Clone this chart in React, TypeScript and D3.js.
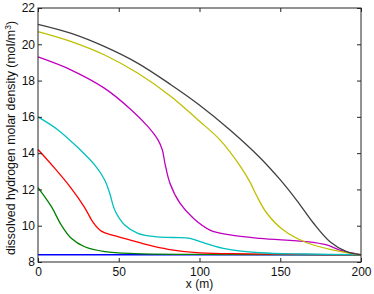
import React, {useEffect, useRef} from 'react'
import * as d3 from 'd3';

// x positions (m) and dissolved H2 density values
const blueX = [0, 200];
const blueY = [8.4, 8.4];

const greenX = [0, 8.3, 14.4, 20.6, 28.9, 41.3, 60, 100, 200];
const greenY = [12.1, 11.05, 10.04, 9.31, 8.84, 8.57, 8.46, 8.42, 8.4];

const redX = [0, 10.3, 20.6, 28.9, 34, 39.2, 45.4, 55.7, 68.1, 80.5, 100.3, 130, 160, 200];
const redY = [14.2, 13.17, 12.06, 11.0, 10.2, 9.7, 9.49, 9.25, 8.94, 8.7, 8.5, 8.45, 8.42, 8.4];

const cyanX = [0, 12.4, 25.8, 35.1, 41.3, 44.4, 47.5, 53.7, 61.9, 72.2, 84, 94.1, 100.3, 114.7, 137.5, 165, 200];
const cyanY = [16.0, 15.28, 14.21, 13.35, 12.52, 11.79, 10.87, 10.04, 9.58, 9.4, 9.35, 9.3, 9.12, 8.75, 8.51, 8.44, 8.4];

const magentaX = [0, 20.6, 41.3, 57.8, 68.1, 74.3, 77, 78.6, 81.7, 87.9, 96.2, 106.5, 118.9, 137.5, 166.4, 178.8, 187, 200];
const magentaY = [19.3, 18.58, 17.57, 16.38, 15.46, 14.73, 14.17, 13.44, 12.34, 11.24, 10.41, 9.76, 9.49, 9.3, 9.12, 8.94, 8.66, 8.4];

const yellowX = [0, 20.6, 41.3, 61.9, 82.5, 99.1, 112.7, 125.1, 131.3, 135.4, 141.6, 151.9, 166.4, 182.9, 200];
const yellowY = [20.7, 20.15, 19.41, 18.4, 17.11, 15.83, 14.73, 13.3, 12.4, 11.65, 10.7, 9.76, 9.06, 8.66, 8.4];

const grayX = [0, 20.6, 41.3, 61.9, 82.5, 99.1, 118.9, 137.5, 149.8, 160.2, 170.5, 180.8, 191.1, 200];
const grayY = [21.1, 20.6, 19.87, 18.95, 17.76, 16.71, 15.28, 13.75, 12.55, 11.4, 10.15, 9.12, 8.57, 8.4];

const xTicks = [0, 50, 100, 150, 200];
const yTicks = [8, 10, 12, 14, 16, 18, 20, 22];

const series = [
    {name: 'blue', color: '#0000ff', xs: blueX, ys: blueY},
    {name: 'green', color: '#008000', xs: greenX, ys: greenY},
    {name: 'red', color: '#ff0000', xs: redX, ys: redY},
    {name: 'cyan', color: '#00bfbf', xs: cyanX, ys: cyanY},
    {name: 'magenta', color: '#bf00bf', xs: magentaX, ys: magentaY},
    {name: 'yellow', color: '#bfbf00', xs: yellowX, ys: yellowY},
    {name: 'gray', color: '#404040', xs: grayX, ys: grayY},
];

export default function App(){
    const svgRef = useRef(null);

    const W = 374, H = 294;
    const margin = {top: 8, right: 13, left: 38, bottom: 32};
    const width = W - margin.left - margin.right;
    const height = H - margin.top - margin.bottom;

    useEffect(() => {
        const svg = d3.select(svgRef.current);
        svg.selectAll("*").remove();

        const xscale = d3.scaleLinear().domain([0, 200]).range([0, width]);
        const yscale = d3.scaleLinear().domain([8, 22]).range([height, 0]);

        const g = svg.append('g')
            .attr("transform", `translate(${margin.left},${margin.top})`);

        const line = d3.line<[number, number]>()
            .x(d => xscale(d[0]))
            .y(d => yscale(d[1]))
            .curve(d3.curveCatmullRom.alpha(0.5));

        g.selectAll('path.curve')
            .data(series)
            .join('path')
            .attr('class', 'curve')
            .attr('fill', 'none')
            .attr('stroke', d => d.color)
            .attr('stroke-width', 1.3)
            .attr('d', d => line(d.xs.map((x, i) => [x, d.ys[i]] as [number, number])));

        const font = 'Liberation Sans, Arial, sans-serif';

        // box axes with inward ticks
        const axColor = '#262626';
        g.append('g')
            .attr("transform", `translate(0,${height})`)
            .call(d3.axisBottom(xscale).tickValues(xTicks).tickSize(-4).tickPadding(5).tickFormat(d3.format('d')))
            .call(a => a.select('.domain').remove())
            .attr('font-family', font).attr('font-size', 12).attr('color', axColor);
        g.append('g')
            .call(d3.axisTop(xscale).tickValues(xTicks).tickSize(-4).tickFormat(() => ''))
            .call(a => a.select('.domain').remove())
            .attr('color', axColor);
        g.append('g')
            .call(d3.axisLeft(yscale).tickValues(yTicks).tickSize(-4).tickPadding(3).tickFormat(d3.format('d')))
            .call(a => a.select('.domain').remove())
            .attr('font-family', font).attr('font-size', 12).attr('color', axColor);
        g.append('g')
            .attr("transform", `translate(${width},0)`)
            .call(d3.axisRight(yscale).tickValues(yTicks).tickSize(-4).tickFormat(() => ''))
            .call(a => a.select('.domain').remove())
            .attr('color', axColor);

        g.selectAll('.tick text').attr('fill', '#111');

        g.append('rect')
            .attr('x', 0).attr('y', 0)
            .attr('width', width).attr('height', height)
            .attr('fill', 'none')
            .attr('stroke', axColor)
            .attr('stroke-width', 1);

        svg.append('text')
            .attr('x', margin.left + width / 2)
            .attr('y', H - 6)
            .attr('text-anchor', 'middle')
            .attr('font-family', font).attr('font-size', 12)
            .attr('fill', '#111')
            .text('x (m)');

        const yl = svg.append('text')
            .attr('transform', `translate(15,${margin.top + height / 2 + 3}) rotate(-90)`)
            .attr('text-anchor', 'middle')
            .attr('font-family', font).attr('font-size', 12.4)
            .attr('fill', '#111');
        yl.append('tspan').text('dissolved hydrogen molar density (mol/m');
        yl.append('tspan').attr('font-size', 8.5).attr('dy', -4.5).text('3');
        yl.append('tspan').attr('dy', 4.5).text(')');
    });

    return (
        <svg
            ref={svgRef}
            width={W}
            height={H}
            style={{position: 'absolute', left: 0, top: 0, background: '#fff'}}
        >
        </svg>
    );
}
